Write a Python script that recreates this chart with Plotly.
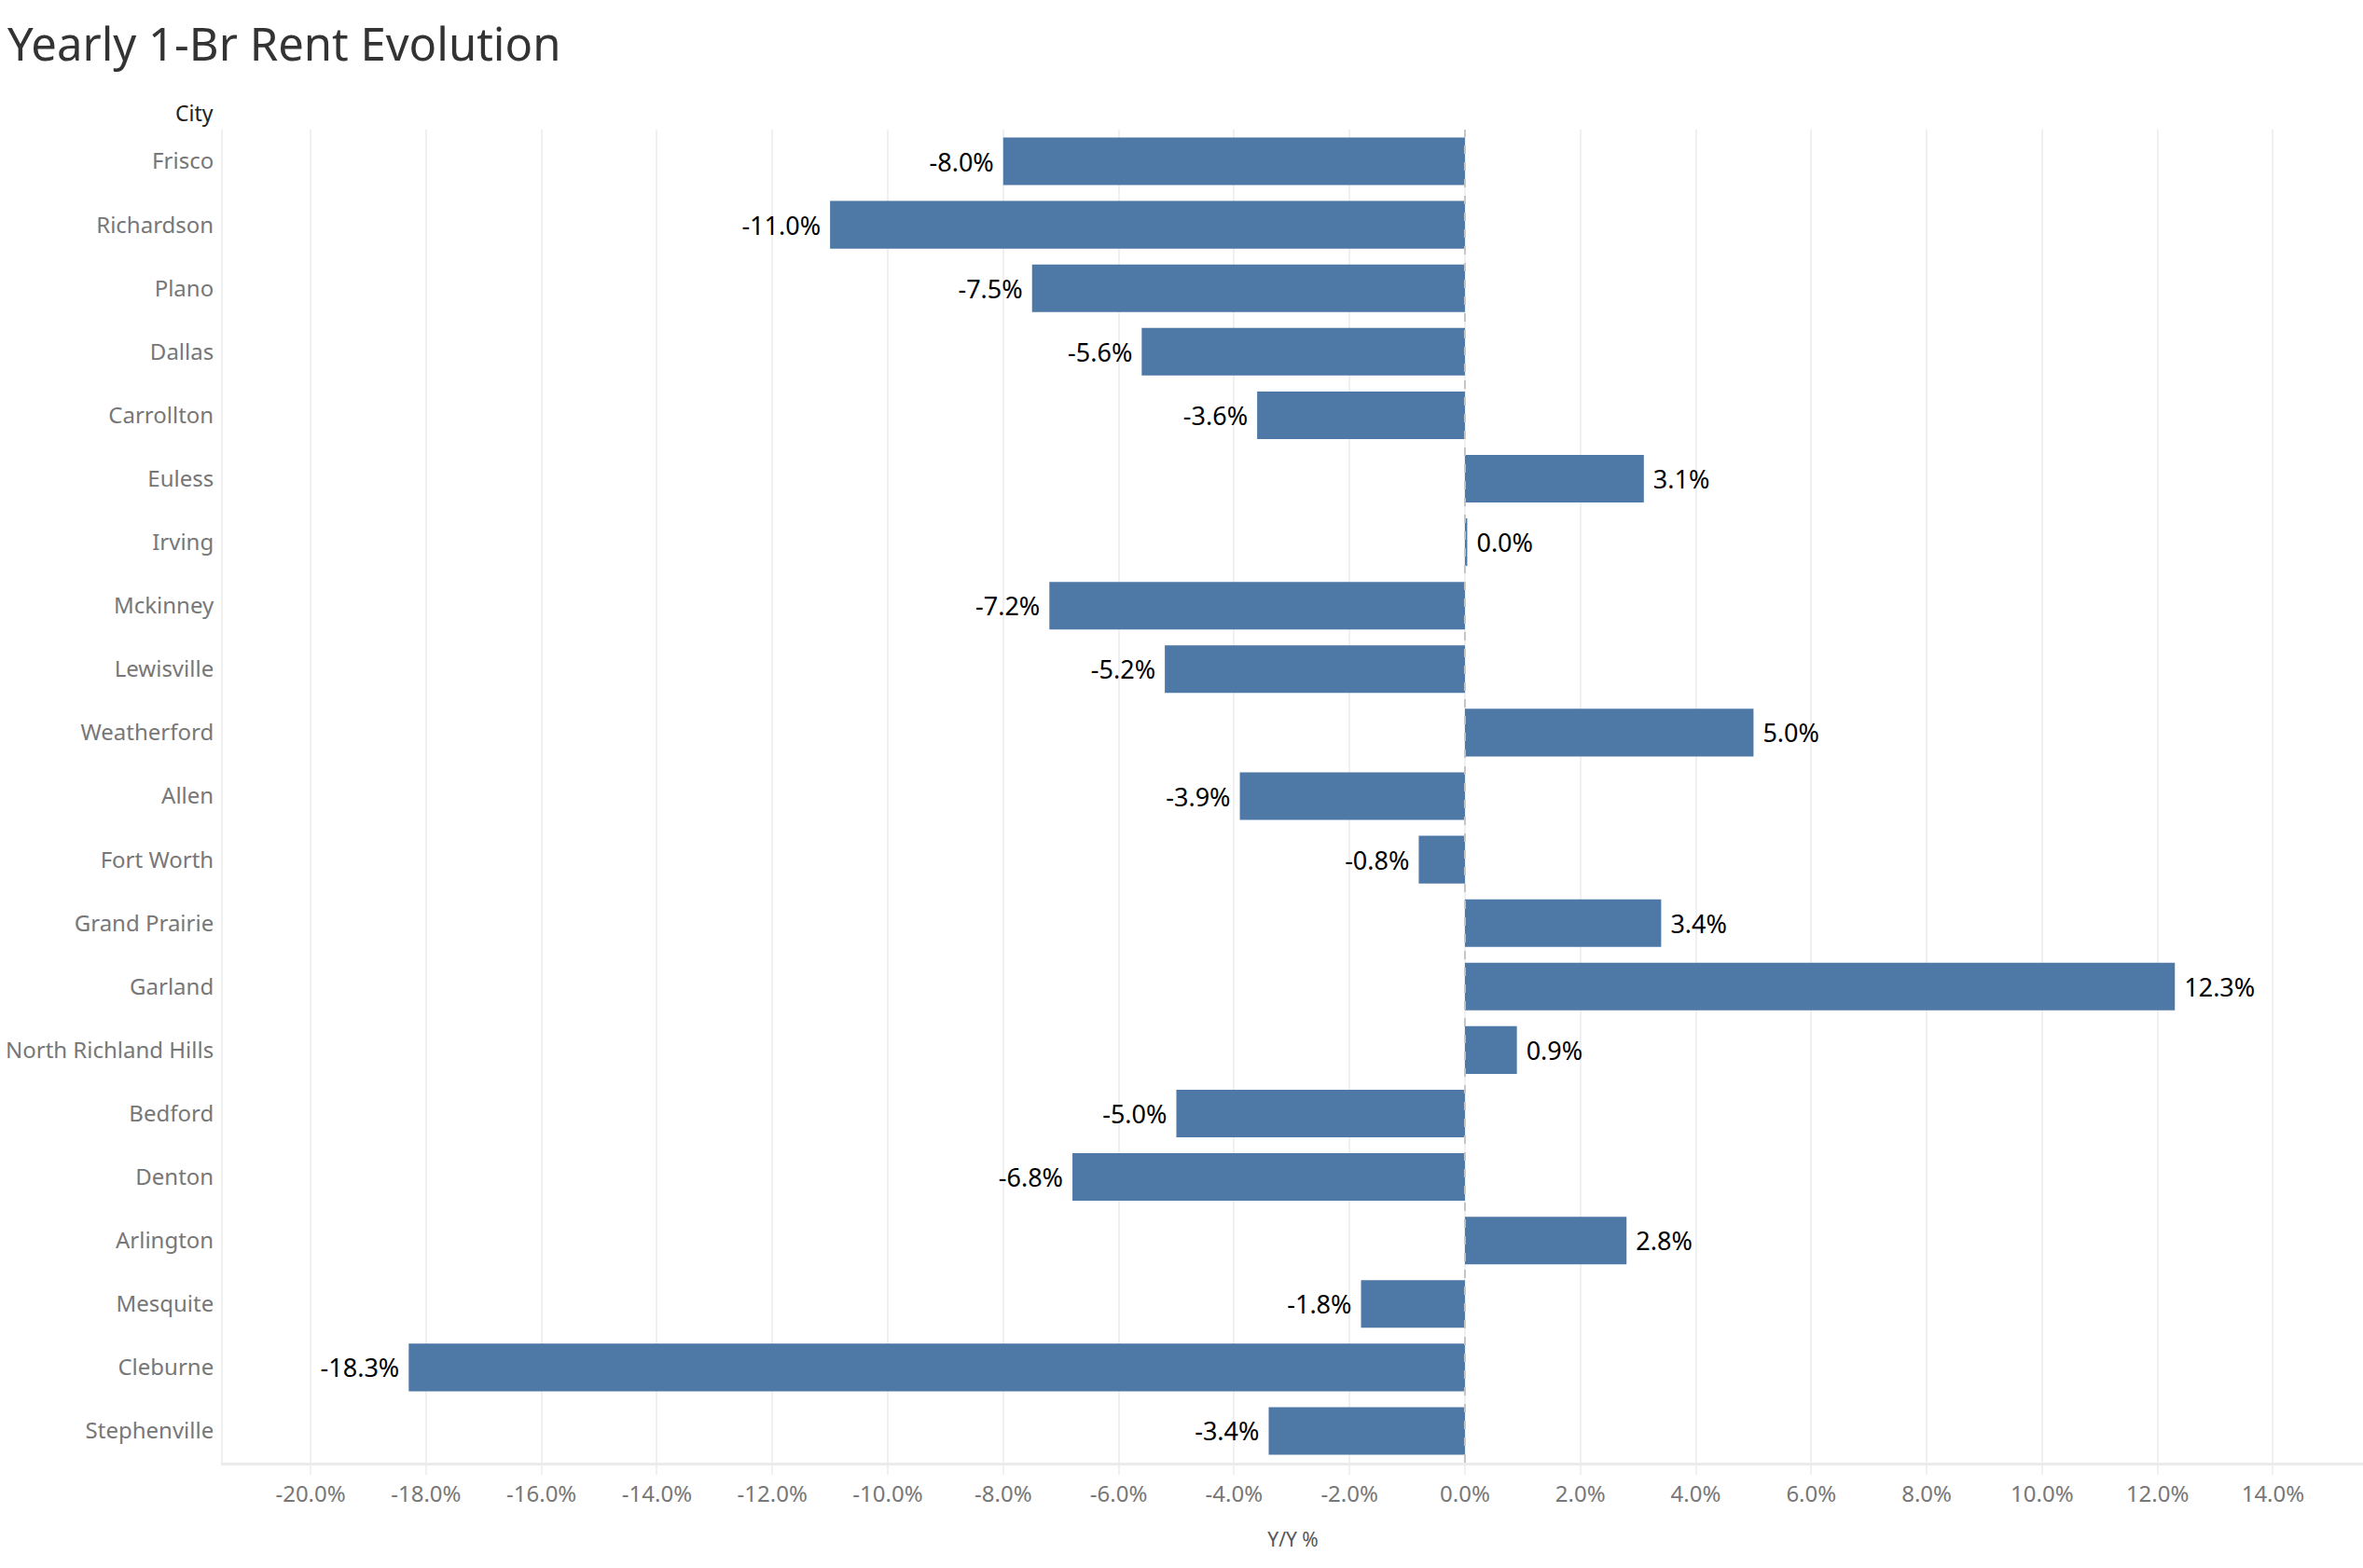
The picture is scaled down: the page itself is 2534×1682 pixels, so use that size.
import plotly.graph_objects as go

cities = ["Frisco", "Richardson", "Plano", "Dallas", "Carrollton", "Euless", "Irving",
          "Mckinney", "Lewisville", "Weatherford", "Allen", "Fort Worth", "Grand Prairie",
          "Garland", "North Richland Hills", "Bedford", "Denton", "Arlington", "Mesquite",
          "Cleburne", "Stephenville"]
yy_pct = [-8.0, -11.0, -7.5, -5.6, -3.6, 3.1, 0.04, -7.2, -5.2, 5.0, -3.9, -0.8, 3.4,
          12.3, 0.9, -5.0, -6.8, 2.8, -1.8, -18.3, -3.4]
tick_vals = [-20, -18, -16, -14, -12, -10, -8, -6, -4, -2, 0, 2, 4, 6, 8, 10, 12, 14]
tick_text = [f"{v:.1f}%" for v in tick_vals]

W, H = 2534, 1682
L, R, T, B = 239, 0, 139, 113

NB = "\u00a0"
labels = [(f"{v:.1f}%" + NB) if v < 0 else (NB + f"{v:.1f}%") for v in yy_pct]

fig = go.Figure(go.Bar(
    x=yy_pct, y=cities, orientation="h",
    marker=dict(color="#4e79a7", line=dict(width=0)),
    text=labels,
    textposition="outside",
    textfont=dict(family="Noto Sans", size=27, color="#000000"),
    cliponaxis=False,
))

fig.add_shape(type="line", xref="x", yref="paper", x0=0, x1=0, y0=0, y1=1,
              line=dict(color="#c4c4c4", width=2, dash="dash"), layer="above")

fig.update_layout(
    width=W, height=H,
    margin=dict(l=L, r=R, t=T, b=B),
    paper_bgcolor="white", plot_bgcolor="white",
    bargap=0.25,
    showlegend=False,
    title=dict(text="Yearly 1-Br Rent Evolution", xref="container", yref="container",
               x=8 / W, y=1 - 48 / H, xanchor="left", yanchor="middle",
               font=dict(family="Noto Sans", size=49, color="#333333")),
    xaxis=dict(range=[-21.52, 15.56], tickvals=tick_vals, ticktext=tick_text,
               showgrid=True, gridcolor="#f0f0f0", gridwidth=2,
               zeroline=False, showline=True, linecolor="#ebebeb", linewidth=3,
               ticks="outside", ticklen=10, tickcolor="#f0f0f0", tickwidth=2,
               tickfont=dict(family="Noto Sans", size=24, color="#777777"),
               title=dict(text="Y/Y %", font=dict(family="Noto Sans", size=21, color="#555555"),
                          standoff=28)),
    yaxis=dict(categoryorder="array", categoryarray=cities, autorange="reversed",
               showgrid=False, zeroline=False, showline=True, linecolor="#f0f0f0", linewidth=2,
               ticks="", ticklabelstandoff=3,
               tickfont=dict(family="Noto Sans", size=24, color="#777777")),
)

fig.add_annotation(text="City", xref="paper", yref="paper",
                   x=(231 - L) / (W - L - R), y=1 + (T - 121) / (H - T - B),
                   xanchor="right", yanchor="middle", showarrow=False,
                   font=dict(family="Noto Sans", size=23, color="#222222"))

fig.write_html("out.html")
